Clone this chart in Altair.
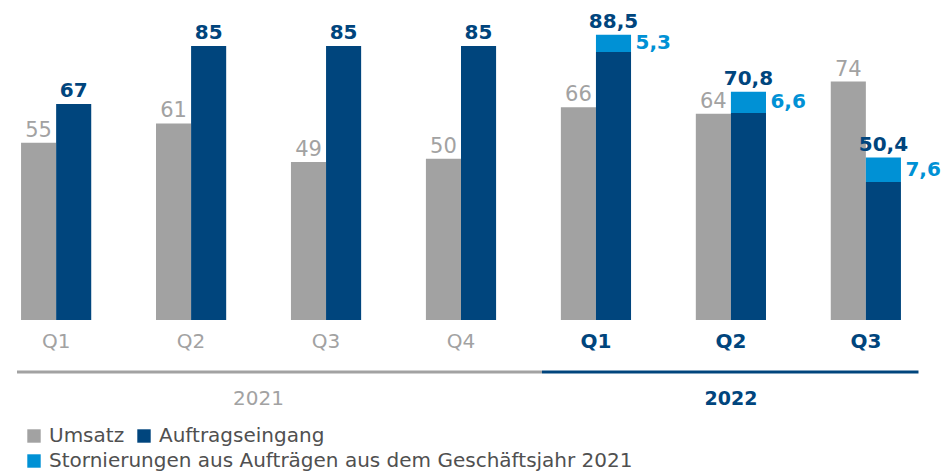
import altair as alt
import pandas as pd

# ---- data ----
quarters = ["Q1", "Q2", "Q3", "Q4", "Q1", "Q2", "Q3"]
years = ["2021", "2021", "2021", "2021", "2022", "2022", "2022"]
umsatz = [55, 61, 49, 50, 66, 64, 74]
auftragseingang = [67, 85, 85, 85, 88.5, 70.8, 50.4]
stornierungen = [0, 0, 0, 0, 5.3, 6.6, 7.6]

series_names = ["Umsatz", "Auftragseingang"]
storno_name = "Stornierungen aus Aufträgen aus dem Geschäftsjahr 2021"
year_labels = ["2021", "2022"]

GRAY = "#a2a2a2"
DARK = "#00457d"
LIGHT = "#0091d5"
TEXT = "#505050"
FONT = "DejaVu Sans"


def fmt(v):
    if float(v).is_integer():
        return str(int(v))
    return f"{v:.1f}".replace(".", ",")


keys = [f"{y} {q}" for y, q in zip(years, quarters)]

bar_rows = []
storno_bar_rows = []
label_rows = []
storno_rows = []
for k, y, u, a, s in zip(keys, years, umsatz, auftragseingang, stornierungen):
    bar_rows.append(dict(key=k, slot="U", series=series_names[0], y0=0, y1=u))
    bar_rows.append(dict(key=k, slot="A", series=series_names[1], y0=0, y1=round(a - s, 2)))
    if s > 0:
        storno_bar_rows.append(dict(key=k, slot="A", series=storno_name, y0=round(a - s, 2), y1=a))
        storno_rows.append(dict(key=k, slot="A", ymid=a - s / 2, label=fmt(s)))
    label_rows.append(dict(key=k, slot="U", val=u, label=fmt(u), kind="u"))
    label_rows.append(dict(key=k, slot="A", val=a, label=fmt(a), kind="a"))

bars_df = pd.DataFrame(bar_rows)
storno_bars_df = pd.DataFrame(storno_bar_rows)
labels_df = pd.DataFrame(label_rows)
storno_df = pd.DataFrame(storno_rows)

# year groups (by quarter index)
year_rows = []
for yl in year_labels:
    idx = [i for i, y in enumerate(years) if y == yl]
    year_rows.append(dict(year=yl, first=min(idx), last=max(idx),
                          mid=sum(idx) / len(idx)))
year_df = pd.DataFrame(year_rows)
split = year_df.loc[year_df["year"] == "2021", "last"].values[0] + 0.6
year_df["x0"] = [year_df["first"].values[0] - 0.29, split]
year_df["x1"] = [split, year_df["last"].values[1] + 0.39]

ymax = 99.3
x_scale = alt.Scale(domain=keys, paddingInner=0.48, paddingOuter=0.156)
off_scale = alt.Scale(domain=["U", "A"], paddingInner=0, paddingOuter=0)
y_scale = alt.Scale(domain=[0, ymax], nice=False, zero=True)

is22 = "indexof(datum.value, '2022') >= 0"
x_enc = alt.X(
    "key:N", scale=x_scale, sort=keys,
    axis=alt.Axis(
        title=None, domain=False, ticks=False, grid=False, labelAngle=0,
        labelExpr="split(datum.value, ' ')[1]",
        labelFontSize=20, labelFont=FONT, labelPadding=11,
        labelColor={"condition": {"test": is22, "value": DARK}, "value": GRAY},
        labelFontWeight={"condition": {"test": is22, "value": "bold"}, "value": "normal"},
    ),
)
x_off = alt.XOffset("slot:N", scale=off_scale, sort=["U", "A"])

bars = alt.Chart(bars_df).mark_bar().encode(
    x=x_enc,
    xOffset=x_off,
    y=alt.Y("y0:Q", scale=y_scale, axis=None),
    y2="y1:Q",
    color=alt.Color(
        "series:N",
        scale=alt.Scale(domain=series_names, range=[GRAY, DARK]),
        legend=alt.Legend(
            title=None, orient="none", legendX=24, legendY=426,
            direction="horizontal",
            symbolType="square", symbolSize=180, symbolStrokeWidth=0,
            labelFontSize=20, labelFont=FONT, labelColor=TEXT,
            columnPadding=9, labelOffset=5, labelLimit=800,
        ),
    ),
)

storno_bars = alt.Chart(storno_bars_df).mark_bar().encode(
    x=x_enc,
    xOffset=x_off,
    y=alt.Y("y0:Q", scale=y_scale, axis=None),
    y2="y1:Q",
    fill=alt.Fill(
        "series:N",
        scale=alt.Scale(domain=[storno_name], range=[LIGHT]),
        legend=alt.Legend(
            title=None, orient="none", legendX=24, legendY=451,
            direction="horizontal",
            symbolType="square", symbolSize=180, symbolStrokeWidth=0,
            labelFontSize=20, labelFont=FONT, labelColor=TEXT,
            labelOffset=5, labelLimit=800,
        ),
    ),
)

gray_labels = alt.Chart(labels_df).transform_filter(alt.datum.kind == "u").mark_text(
    baseline="alphabetic", dy=-6, fontSize=21, font=FONT, color=GRAY
).encode(
    x=x_enc, xOffset=x_off,
    y=alt.Y("val:Q", scale=y_scale, axis=None),
    text="label:N",
)

dark_labels = alt.Chart(labels_df).transform_filter(alt.datum.kind == "a").mark_text(
    baseline="alphabetic", dy=-7, fontSize=20, font=FONT, fontWeight="bold", color=DARK
).encode(
    x=x_enc, xOffset=x_off,
    y=alt.Y("val:Q", scale=y_scale, axis=None),
    text="label:N",
)

storno_labels = alt.Chart(storno_df).mark_text(
    align="left", baseline="middle", dx=22, fontSize=20, font=FONT,
    fontWeight="bold", color=LIGHT
).encode(
    x=x_enc, xOffset=x_off,
    y=alt.Y("ymid:Q", scale=y_scale, axis=None),
    text="label:N",
)

main = alt.layer(bars, storno_bars, gray_labels, dark_labels, storno_labels)

idx_scale = alt.Scale(domain=[-0.416, 6.416], nice=False, zero=False)
year_color = alt.condition(alt.datum.year == "2022", alt.value(DARK), alt.value(GRAY))

year_lines = alt.Chart(year_df).mark_rule(strokeWidth=3).encode(
    x=alt.X("x0:Q", scale=idx_scale, axis=None),
    x2="x1:Q",
    y=alt.value(372),
    color=year_color,
)

year_text_2021 = alt.Chart(year_df).transform_filter(alt.datum.year == "2021").mark_text(
    baseline="middle", fontSize=20, font=FONT, color=GRAY
).encode(
    x=alt.X("mid:Q", scale=idx_scale, axis=None),
    y=alt.value(399),
    text="year:N",
)
year_text_2022 = alt.Chart(year_df).transform_filter(alt.datum.year == "2022").mark_text(
    baseline="middle", fontSize=19, font=FONT, color=DARK, fontWeight="bold"
).encode(
    x=alt.X("mid:Q", scale=idx_scale, axis=None),
    y=alt.value(399),
    text="year:N",
)
years_layer = alt.layer(year_lines, year_text_2021, year_text_2022)

chart = alt.layer(main, years_layer).resolve_scale(x="independent").properties(
    width=922, height=320,
    background="white",
    autosize=alt.AutoSizeParams(type="none"),
    padding={"left": 0, "top": 0, "right": 26, "bottom": 152},
).configure_view(strokeWidth=0, stroke=None)

chart.save("out.html", embed_options={"renderer": "svg", "actions": False})
